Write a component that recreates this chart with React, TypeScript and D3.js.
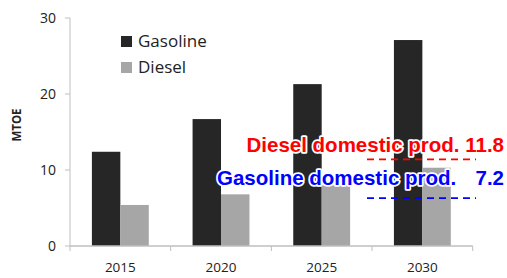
import React from 'react';
import * as d3 from 'd3';

const years = ['2015', '2020', '2025', '2030'];
const gasoline = [12.4, 16.7, 21.3, 27.1];
const diesel = [5.4, 6.8, 8.0, 10.3];
const seriesNames = ['Gasoline', 'Diesel'];
const seriesColors = ['#262626', '#a6a6a6'];
const yTicks = [0, 10, 20, 30];
// domestic production reference lines (position on axis) and their labels
const refLevels = [11.4, 6.3];
const refLabels = ['Diesel domestic prod. 11.8', 'Gasoline domestic prod.'];
const refValueText = ['', '7.2'];
const refColors = ['#ff0000', '#0000ff'];

const W = 507;
const H = 278;
const left = 70;
const right = 472.7;
const top = 18;
const bottom = 246;

export default function App() {
  const x = d3.scaleBand().domain(years).range([left, right]).paddingInner(0).paddingOuter(0);
  const inner = d3.scaleBand().domain(seriesNames).range([0, x.bandwidth()]).paddingInner(0).paddingOuter(0.77);
  const y = d3.scaleLinear().domain([0, 30]).range([bottom, top]);
  const values = [gasoline, diesel];
  const font = "'Open Sans', sans-serif";
  const axisColor = '#bfbfbf';

  return (
    <svg width={W} height={H} style={{ position: 'absolute', left: 0, top: 0, background: '#fff' }}>
      {/* bars */}
      {years.map((yr, i) => (
        <g key={yr}>
          {seriesNames.map((s, j) => (
            <rect
              key={s}
              x={x(yr)! + inner(s)!}
              y={y(values[j][i])}
              width={inner.bandwidth()}
              height={bottom - y(values[j][i])}
              fill={seriesColors[j]}
            />
          ))}
        </g>
      ))}
      {/* y axis */}
      <line x1={left} x2={left} y1={top} y2={bottom} stroke={axisColor} />
      {yTicks.map(t => (
        <g key={t}>
          <line x1={left - 5} x2={left} y1={y(t)} y2={y(t)} stroke={axisColor} />
          <text x={left - 14} y={y(t) + 5} textAnchor="end" fontFamily={font} fontSize={14} fill="#222">{t}</text>
        </g>
      ))}
      {/* x axis */}
      <line x1={left} x2={right} y1={bottom} y2={bottom} stroke={axisColor} strokeWidth={1.5} />
      {years.map(yr => (
        <line key={'t' + yr} x1={x(yr)!} x2={x(yr)!} y1={bottom} y2={bottom + 5} stroke={axisColor} />
      ))}
      <line x1={right} x2={right} y1={bottom} y2={bottom + 5} stroke={axisColor} />
      {years.map(yr => (
        <text key={'l' + yr} x={x(yr)! + x.bandwidth() / 2} y={272} textAnchor="middle" fontFamily={font} fontSize={13.5} fill="#222">{yr}</text>
      ))}
      <text transform="translate(21,125) rotate(-90)" textAnchor="middle" fontFamily={font} fontSize={11.5} fontWeight="bold" fill="#222">MTOE</text>
      {/* legend */}
      {seriesNames.map((s, j) => (
        <g key={'lg' + s} transform={`translate(121,${36 + j * 26})`}>
          <rect x={0} y={0} width={11} height={11} fill={seriesColors[j]} />
          <text x={17} y={11} fontFamily={font} fontSize={17} fill="#222">{s}</text>
        </g>
      ))}
      {/* reference lines */}
      {refLevels.map((v, i) => (
        <line key={'r' + i} x1={367} x2={476} y1={y(v)} y2={y(v)} stroke={refColors[i]} strokeWidth={1.6} strokeDasharray="7,5" />
      ))}
      {refLabels.map((lab, i) => (
        <g key={'rl' + i} fontFamily="'Liberation Sans', Arial, sans-serif" fontWeight="bold" fontSize={20.5} fill={refColors[i]}
          stroke="#fff" strokeWidth={3.5} strokeLinejoin="round" style={{ paintOrder: 'stroke' }}>
          {refValueText[i] ? (
            <>
              <text x={217} y={185}>{lab}</text>
              <text x={504} y={185} textAnchor="end">{refValueText[i]}</text>
            </>
          ) : (
            <text x={504} y={152} textAnchor="end">{lab}</text>
          )}
        </g>
      ))}
    </svg>
  );
}
